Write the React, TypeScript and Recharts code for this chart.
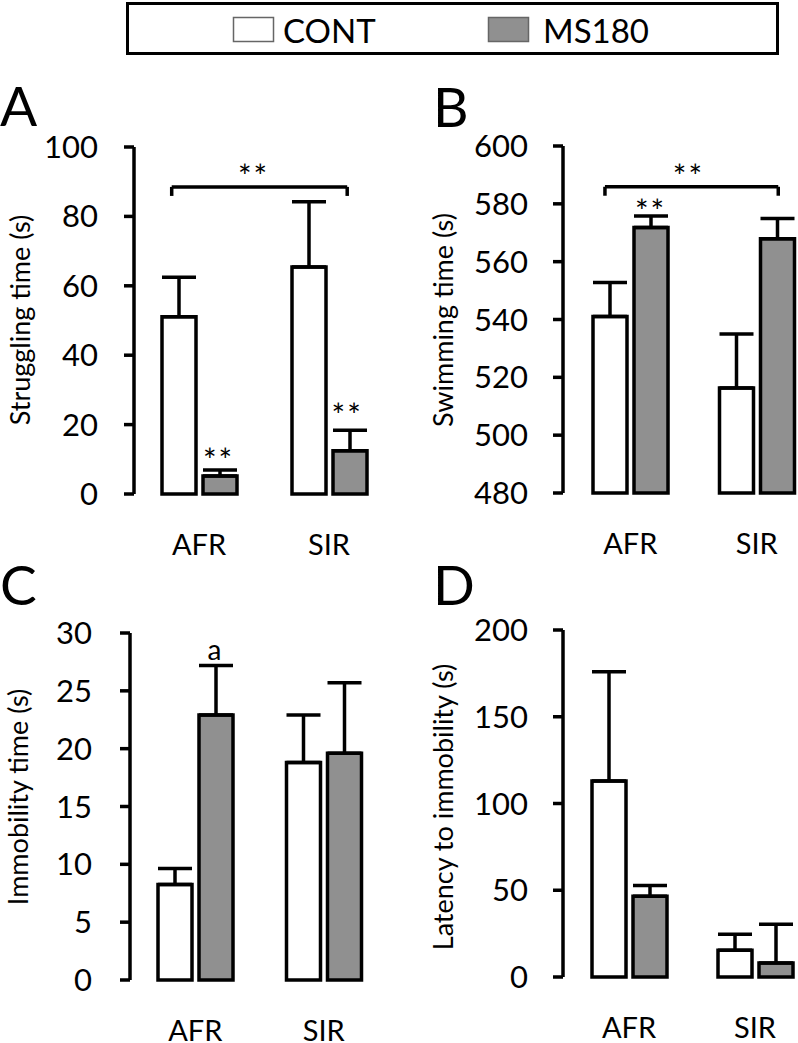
import React from "react"
import {
  BarChart,
  Bar,
  XAxis,
  YAxis,
  ErrorBar,
  ReferenceLine,
  ReferenceDot,
} from "recharts"

const FONT = "Lato, 'Open Sans', sans-serif"
const GREY = "#909090"

const categories = ["AFR", "SIR"]
// centre of each category band, in band units
const bandCentres = [0.5, 1.5]

// A - struggling time
const strugglingCont = [51.1, 65.4]
const strugglingContSem = [11.4, 18.8]
const strugglingMs = [5.2, 12.5]
const strugglingMsSem = [1.7, 5.9]
const strugglingTicks = [0, 20, 40, 60, 80, 100]

// B - swimming time
const swimmingCont = [541, 516.3]
const swimmingContSem = [11.8, 18.7]
const swimmingMs = [571.8, 567.9]
const swimmingMsSem = [4.0, 7.0]
const swimmingTicks = [480, 500, 520, 540, 560, 580, 600]

// C - immobility time
const immobilityCont = [8.25, 18.8]
const immobilityContSem = [1.4, 4.1]
const immobilityMs = [22.9, 19.6]
const immobilityMsSem = [4.3, 6.1]
const immobilityTicks = [0, 5, 10, 15, 20, 25, 30]

// D - latency to immobility
const latencyCont = [113, 15.4]
const latencyContSem = [63, 9.2]
const latencyMs = [46.5, 8]
const latencyMsSem = [6.2, 22.4]
const latencyTicks = [0, 50, 100, 150, 200]

// significance marks, x in category-band units (0..2)
const strugglingBrackets = [{ from: 0.29, to: 1.64, y: 88.5, drop: 2.6 }]
const strugglingMarks = [
  { x: 0.92, y: 93.4, text: "**" },
  { x: 0.65, y: 11.5, text: "**" },
  { x: 1.64, y: 24.5, text: "**" },
]
const swimmingBrackets = [{ from: 0.3, to: 1.67, y: 585.9, drop: 3.1 }]
const swimmingMarks = [
  { x: 0.96, y: 591.8, text: "**" },
  { x: 0.66, y: 579.7, text: "**" },
]
const immobilityMarks = [{ x: 0.65, y: 28.3, text: "a" }]

type Row = { name: string; pos: number; cont: number; contErr: number[]; ms: number; msErr: number[] }

function rows(cont: number[], contSem: number[], ms: number[], msSem: number[]): Row[] {
  return categories.map((name, i) => ({
    name,
    pos: bandCentres[i],
    cont: cont[i],
    contErr: [0, contSem[i]],
    ms: ms[i],
    msErr: [0, msSem[i]],
  }))
}

type Bracket = { from: number; to: number; y: number; drop: number }
type Mark = { x: number; y: number; text: string }

interface PanelProps {
  left: number
  top: number
  axisX: number
  plotTop: number
  plotBottom: number
  band: number
  pad: number
  data: Row[]
  domain: [number, number]
  ticks: number[]
  title: string
  titleX: number
  titleY: number
  tickMargin?: number
  brackets?: Bracket[]
  marks?: Mark[]
}

function Panel(p: PanelProps) {
  const yAxisWidth = 100
  const plotLeft = p.axisX - p.left
  const width = plotLeft + p.pad + p.band * categories.length + 2
  const height = p.plotBottom - p.top + 70
  const tickStyle = { fill: "#000", fontSize: 31, fontFamily: FONT }

  return (
    <div style={{ position: "absolute", left: p.left, top: p.top }}>
      <BarChart
        width={width}
        height={height}
        data={p.data}
        margin={{ top: p.plotTop - p.top, right: 2, bottom: 10, left: plotLeft - yAxisWidth }}
        barGap={7}
        barSize={34}
      >
        <XAxis
          dataKey="name"
          axisLine={false}
          tickLine={false}
          tickSize={0}
          tickMargin={40}
          height={60}
          interval={0}
          padding={{ left: p.pad, right: 0 }}
          tick={{ ...tickStyle, fontSize: 29 }}
        />
        <XAxis
          xAxisId="num"
          dataKey="pos"
          type="number"
          domain={[0, 2]}
          allowDataOverflow
          padding={{ left: p.pad, right: 0 }}
          hide
        />
        <YAxis
          width={yAxisWidth}
          domain={p.domain}
          ticks={p.ticks}
          interval={0}
          tickSize={10}
          tickMargin={p.tickMargin ?? 25}
          axisLine={{ stroke: "#000", strokeWidth: 3.5 }}
          tickLine={{ stroke: "#000", strokeWidth: 3.5 }}
          tick={tickStyle}
          label={{
            content: () => (
              <text
                transform={`translate(${p.titleX - p.left}, ${p.titleY - p.top}) rotate(-90)`}
                textAnchor="middle"
                dominantBaseline="central"
                fontSize={27}
                fontFamily={FONT}
                fill="#000"
              >
                {p.title}
              </text>
            ),
          }}
        />
        <Bar dataKey="cont" name="CONT" fill="#fff" stroke="#000" strokeWidth={3.5} isAnimationActive={false}>
          <ErrorBar dataKey="contErr" direction="y" width={17} stroke="#000" strokeWidth={3.5} />
        </Bar>
        <Bar dataKey="ms" name="MS180" fill={GREY} stroke="#000" strokeWidth={3.5} isAnimationActive={false}>
          <ErrorBar dataKey="msErr" direction="y" width={17} stroke="#000" strokeWidth={3.5} />
        </Bar>
        {(p.brackets ?? []).map((b, i) => [
          <ReferenceLine
            key={`h${i}`}
            xAxisId="num"
            segment={[{ x: b.from, y: b.y }, { x: b.to, y: b.y }]}
            stroke="#000"
            strokeWidth={3.5}
            ifOverflow="visible"
          />,
          <ReferenceLine
            key={`l${i}`}
            xAxisId="num"
            segment={[{ x: b.from, y: b.y }, { x: b.from, y: b.y - b.drop }]}
            stroke="#000"
            strokeWidth={3.5}
            ifOverflow="visible"
          />,
          <ReferenceLine
            key={`r${i}`}
            xAxisId="num"
            segment={[{ x: b.to, y: b.y }, { x: b.to, y: b.y - b.drop }]}
            stroke="#000"
            strokeWidth={3.5}
            ifOverflow="visible"
          />,
        ])}
        {(p.marks ?? []).map((m, i) => (
          <ReferenceDot
            key={`m${i}`}
            xAxisId="num"
            x={m.x}
            y={m.y}
            r={0}
            ifOverflow="visible"
            shape={(s: any) => {
              const star = m.text.includes("*")
              const size = star ? 32 : 28
              const lift = star ? 0.56 : 0.26
              return (
                <text
                  x={s.cx}
                  y={s.cy + size * lift}
                  textAnchor="middle"
                  fontSize={size}
                  fontFamily={FONT}
                  letterSpacing={star ? 2 : 0}
                  fill="#000"
                >
                  {m.text}
                </text>
              )
            }}
          />
        ))}
      </BarChart>
    </div>
  )
}

export default function App() {
  const letter = { fontSize: 55, fontFamily: FONT, fill: "#000" }
  return (
    <div
      style={{
        position: "absolute",
        left: 0,
        top: 0,
        width: 798,
        height: 1043,
        overflow: "hidden",
        background: "#fff",
      }}
    >
      <svg width={798} height={1043} style={{ position: "absolute", left: 0, top: 0 }}>
        <rect x={127.5} y={3.5} width={650} height={50} fill="#fff" stroke="#000" strokeWidth={3} />
        <rect x={233.5} y={17.5} width={40} height={24} fill="#fff" stroke="#666" strokeWidth={1.5} />
        <text x={283} y={43} fontSize={33} fontFamily={FONT} fill="#000">CONT</text>
        <rect x={488.5} y={17.5} width={40} height={24} fill={GREY} stroke="#666" strokeWidth={1.5} />
        <text x={543} y={43} fontSize={33} fontFamily={FONT} fill="#000">MS180</text>
        <text x={0} y={126} {...letter}>A</text>
        <text x={433} y={127} {...letter}>B</text>
        <text x={0} y={605} {...letter}>C</text>
        <text x={433} y={605} {...letter}>D</text>
      </svg>
      <Panel
        left={0}
        top={80}
        axisX={134}
        plotTop={147}
        plotBottom={494}
        band={130}
        pad={0}
        data={rows(strugglingCont, strugglingContSem, strugglingMs, strugglingMsSem)}
        domain={[0, 100]}
        ticks={strugglingTicks}
        title="Struggling time (s)"
        titleX={19}
        titleY={320}
        tickMargin={26}
        brackets={strugglingBrackets}
        marks={strugglingMarks}
      />
      <Panel
        left={400}
        top={80}
        axisX={563}
        plotTop={146}
        plotBottom={493}
        band={126.5}
        pad={4}
        data={rows(swimmingCont, swimmingContSem, swimmingMs, swimmingMsSem)}
        domain={[480, 600]}
        ticks={swimmingTicks}
        title="Swimming time (s)"
        titleX={442}
        titleY={320}
        brackets={swimmingBrackets}
        marks={swimmingMarks}
      />
      <Panel
        left={0}
        top={570}
        axisX={130}
        plotTop={633}
        plotBottom={980}
        band={128.5}
        pad={1}
        data={rows(immobilityCont, immobilityContSem, immobilityMs, immobilityMsSem)}
        domain={[0, 30]}
        ticks={immobilityTicks}
        title="Immobility time (s)"
        titleX={17}
        titleY={797}
        tickMargin={28}
        marks={immobilityMarks}
      />
      <Panel
        left={400}
        top={570}
        axisX={563}
        plotTop={630}
        plotBottom={977}
        band={126}
        pad={3}
        data={rows(latencyCont, latencyContSem, latencyMs, latencyMsSem)}
        domain={[0, 200]}
        ticks={latencyTicks}
        title="Latency to immobility (s)"
        titleX={442}
        titleY={807}
      />
    </div>
  )
}
